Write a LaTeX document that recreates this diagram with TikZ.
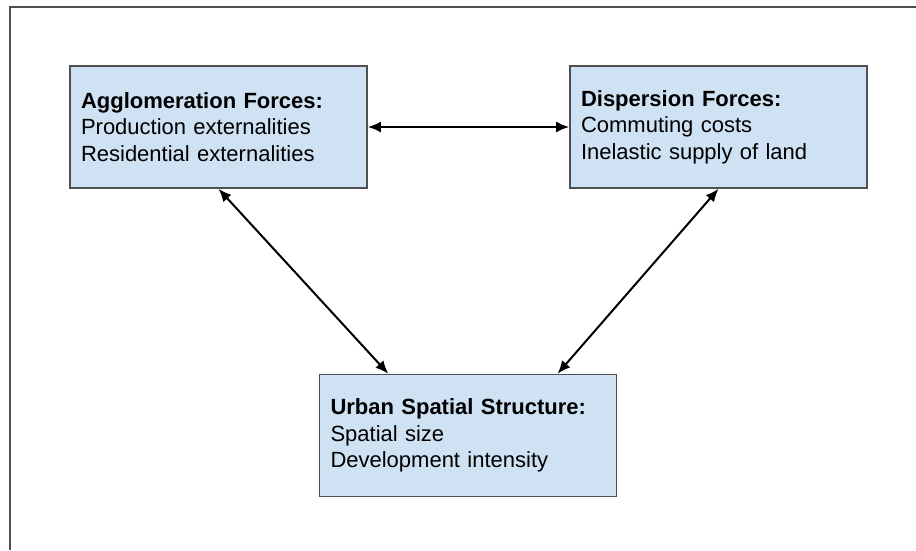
\documentclass[tikz,border=0pt]{standalone}
\usepackage{fontspec}
\setmainfont{Liberation Sans}
\usetikzlibrary{arrows.meta,calc}
\definecolor{boxfill}{HTML}{CFE2F3}
\definecolor{boxline}{HTML}{505050}
\begin{document}
\begin{tikzpicture}[x=1pt,y=-1pt,
  box/.style={draw=boxline,line width=1.6pt,fill=boxfill,rectangle,
    minimum width=297pt,minimum height=122pt,text width=275pt,
    inner xsep=11pt,inner ysep=0pt,align=left,
    font=\fontsize{22}{26.5}\selectfont},
  link/.style={line width=2pt,
    {Latex[length=13pt,width=11pt]}-{Latex[length=13pt,width=11pt]}}]
\useasboundingbox (0,0) rectangle (916,550);
\fill[white] (0,0) rectangle (916,550);
\draw[boxline,line width=1.6pt] (916,7) -- (10,7) -- (10,550);
\node[box] (agg) at (218.5,127) {\textbf{Agglomeration Forces:}\\Production externalities\\Residential externalities};
\node[box] (disp) at (718.5,127) {\textbf{Dispersion Forces:}\\Commuting costs\\Inelastic supply of land};
\node[box] (urb) at (468,435.5) {\textbf{Urban Spatial Structure:}\\Spatial size\\Development intensity};
\draw[link] (agg.east) -- (disp.west);
\draw[link] (agg.south) -- ($(urb.north west)!0.233!(urb.north east)$);
\draw[link] (disp.south) -- ($(urb.north west)!0.80!(urb.north east)$);
\end{tikzpicture}
\end{document}
